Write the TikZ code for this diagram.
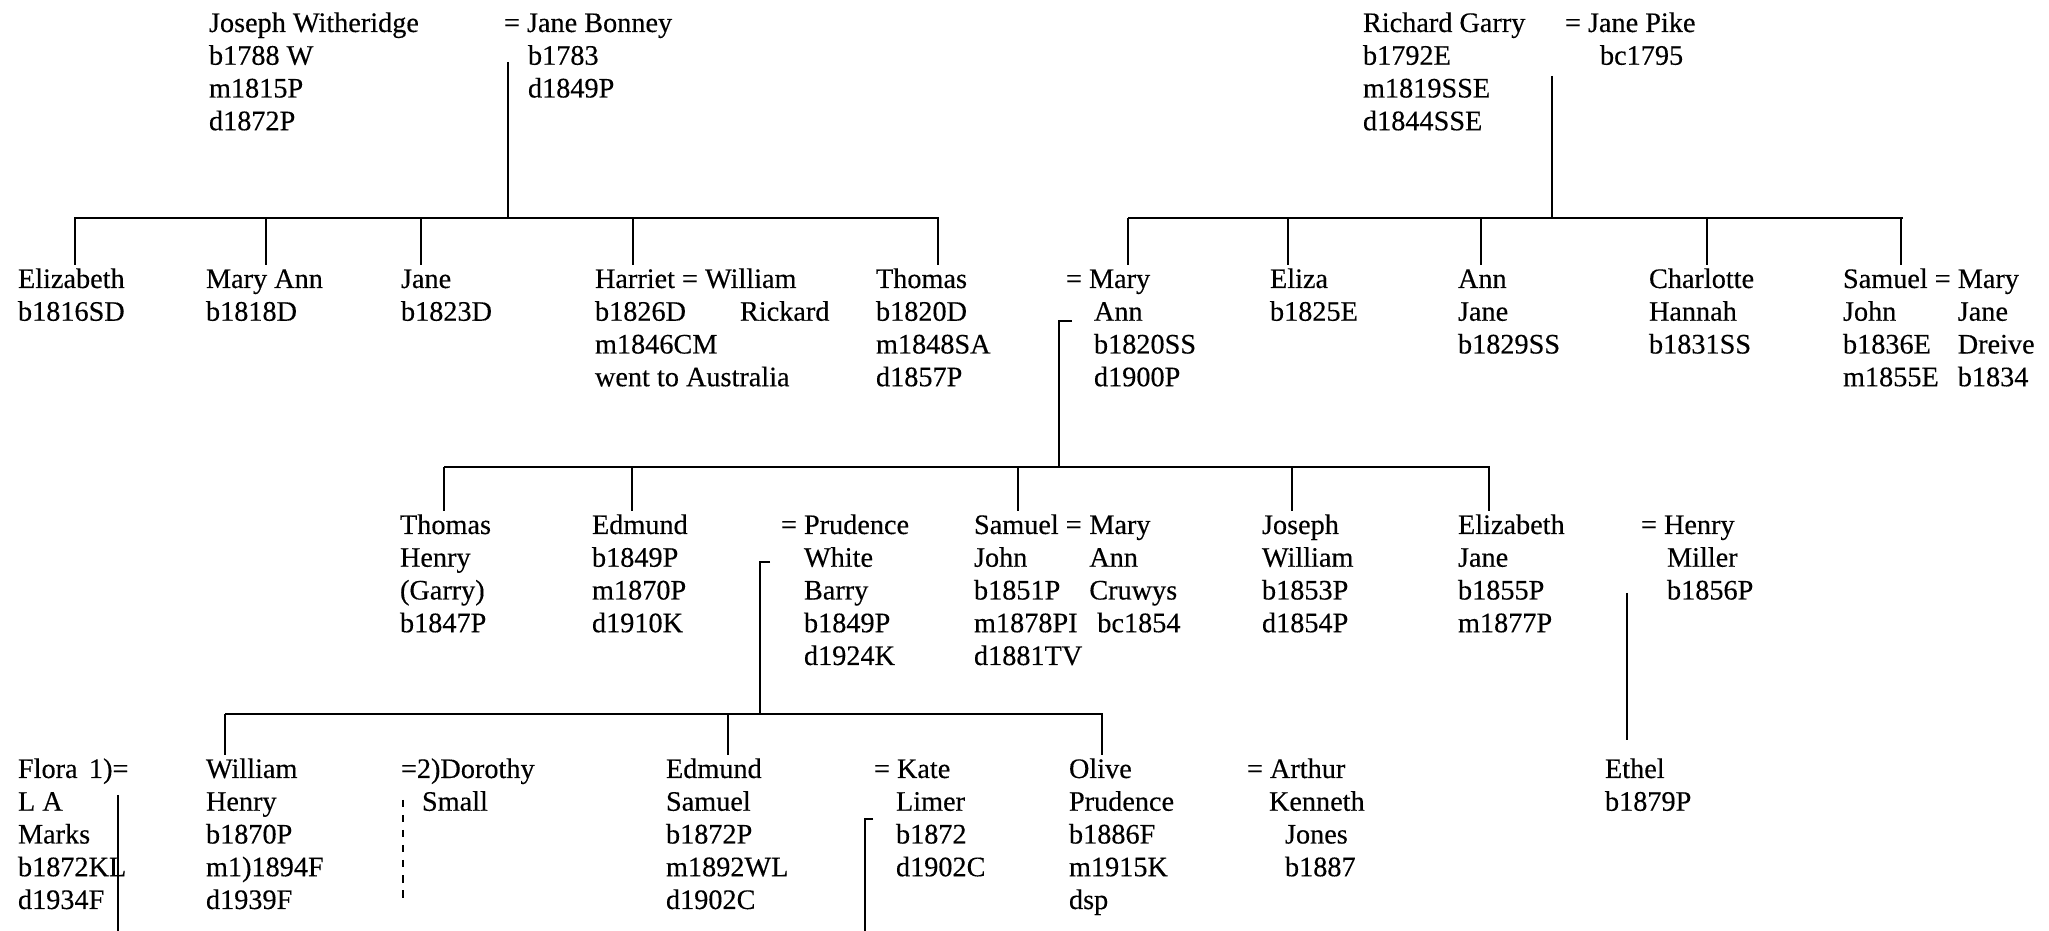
\documentclass[tikz,border=0pt]{standalone}
\usepackage{fontspec}
\setmainfont{Liberation Serif}
\newfontfamily\scanfont{Liberation Serif}[FakeBold=0.3]
\usetikzlibrary{calc}
\newlength{\px}\setlength{\px}{0.4pt}
\newcommand{\tb}[1]{\begin{tabular}[t]{@{}l@{}}#1\end{tabular}}
\newcommand{\tbb}[1]{\begin{tabular}[t]{@{}l@{\ }l@{}}#1\end{tabular}}
\begin{document}
\begin{tikzpicture}[x=0.4pt,y=-0.4pt,
  txt/.style={anchor=base west,inner sep=0pt,outer sep=0pt,font=\scanfont\fontsize{11.3}{13.1}\selectfont},
  ln/.style={line width=0.6pt}]
\useasboundingbox (0,0) rectangle (2049,931);
% ---------- generation 1
\node[txt] (jw) at (209,32) {\tb{Joseph Witheridge\\b1788 W\\m1815P\\d1872P}};
\node[txt] (jb) at (504,32) {\tb{= Jane Bonney\\\hspace*{24\px}b1783\\\hspace*{24\px}d1849P}};
\node[txt] (rg) at (1363,32) {\tb{Richard Garry\\b1792E\\m1819SSE\\d1844SSE}};
\node[txt] (jp) at (1565,32) {\tb{= Jane Pike\\\hspace*{35\px}bc1795}};
% ---------- generation 2
\node[txt] (eliz) at (18,288) {\tb{Elizabeth\\b1816SD}};
\node[txt] (mann) at (206,288) {\tb{Mary Ann\\b1818D}};
\node[txt] (jane) at (401,288) {\tb{Jane\\b1823D}};
\node[txt] (harr) at (595,288) {\tb{Harriet = William\\b1826D\\m1846CM\\went to Australia}};
\node[txt] (rick) at (740,320.75) {Rickard};
\node[txt] (thom) at (876,288) {\tb{Thomas\\b1820D\\m1848SA\\d1857P}};
\node[txt] (mary) at (1066,288) {\tb{= Mary\\\hspace*{28\px}Ann\\\hspace*{28\px}b1820SS\\\hspace*{28\px}d1900P}};
\node[txt] (eliza) at (1270,288) {\tb{Eliza\\b1825E}};
\node[txt] (annj) at (1458,288) {\tb{Ann\\Jane\\b1829SS}};
\node[txt] (charl) at (1649,288) {\tb{Charlotte\\Hannah\\b1831SS}};
\node[txt] (samj) at (1843,288) {\tbb{Samuel =&Mary\\John&Jane\\b1836E&Dreive\\m1855E&b1834}};
% ---------- generation 3
\node[txt] (thh) at (400,534) {\tb{Thomas\\Henry\\(Garry)\\b1847P}};
\node[txt] (edm) at (592,534) {\tb{Edmund\\b1849P\\m1870P\\d1910K}};
\node[txt] (prud) at (781,534) {\tb{= Prudence\\\hspace*{23\px}White\\\hspace*{23\px}Barry\\\hspace*{23\px}b1849P\\\hspace*{23\px}d1924K}};
\node[txt] (samjm) at (974,534) {\tbb{Samuel =&Mary\\John&Ann\\b1851P&Cruwys\\m1878PI&\hspace*{8\px}bc1854\\d1881TV&}};
\node[txt] (josw) at (1262,534) {\tb{Joseph\\William\\b1853P\\d1854P}};
\node[txt] (elj) at (1458,534) {\tb{Elizabeth\\Jane\\b1855P\\m1877P}};
\node[txt] (henry) at (1641,534) {\tb{= Henry\\\hspace*{26\px}Miller\\\hspace*{26\px}b1856P}};
% ---------- generation 4
\node[txt] (flora) at (18,778) {\tb{Flora\\L A\\Marks\\b1872KL\\d1934F}};
\node[txt] (flm) at (89,778) {1)=};
\node[txt] (wh) at (206,778) {\tb{William\\Henry\\b1870P\\m1)1894F\\d1939F}};
\node[txt] (dor) at (401,778) {\tb{=2)Dorothy\\\hspace*{21\px}Small}};
\node[txt] (eds) at (666,778) {\tb{Edmund\\Samuel\\b1872P\\m1892WL\\d1902C}};
\node[txt] (kate) at (874,778) {\tb{= Kate\\\hspace*{22\px}Limer\\\hspace*{22\px}b1872\\\hspace*{22\px}d1902C}};
\node[txt] (olive) at (1069,778) {\tb{Olive\\Prudence\\b1886F\\m1915K\\dsp}};
\node[txt] (arth) at (1247,778) {\tb{= Arthur\\\hspace*{22\px}Kenneth\\\hspace*{38\px}Jones\\\hspace*{38\px}b1887}};
\node[txt] (ethel) at (1605,778) {\tb{Ethel\\b1879P}};
% ---------- connectors: Witheridge family
\coordinate (b1L) at (74,218); \coordinate (b1R) at (939,218);
\coordinate (jbT) at (508,62);
\draw[ln] (b1L) -- (b1R);
\draw[ln] (jbT) -- (jbT |- b1L);
\coordinate (d11) at (75,218);  \draw[ln] (d11) -- (d11 |- eliz.north);
\coordinate (d12) at (266,218); \draw[ln] (d12) -- (d12 |- mann.north);
\coordinate (d13) at (421,218); \draw[ln] (d13) -- (d13 |- jane.north);
\coordinate (d14) at (633,218); \draw[ln] (d14) -- (d14 |- harr.north);
\coordinate (d15) at (938,218); \draw[ln] (d15) -- (d15 |- thom.north);
% ---------- Garry family
\coordinate (b2L) at (1128,218); \coordinate (b2R) at (1903,218);
\coordinate (jpT) at (1552,76);
\draw[ln] (b2L) -- (b2R);
\draw[ln] (jpT) -- (jpT |- b2L);
\coordinate (d21) at (1128,218); \draw[ln] (d21) -- (d21 |- mary.north);
\coordinate (d22) at (1288,218); \draw[ln] (d22) -- (d22 |- eliza.north);
\coordinate (d23) at (1481,218); \draw[ln] (d23) -- (d23 |- annj.north);
\coordinate (d24) at (1707,218); \draw[ln] (d24) -- (d24 |- charl.north);
\coordinate (d25) at (1901,218); \draw[ln] (d25) -- (d25 |- samj.north);
% ---------- Thomas = Mary Ann children
\coordinate (b3L) at (444,467); \coordinate (b3R) at (1490,467);
\coordinate (mh1) at (1072,321); \coordinate (mh2) at (1059,321);
\draw[ln] (b3L) -- (b3R);
\draw[ln] (mh1) -- (mh2) -- (mh2 |- b3L);
\coordinate (d31) at (444,467);  \draw[ln] (d31) -- (d31 |- thh.north);
\coordinate (d32) at (632,467);  \draw[ln] (d32) -- (d32 |- edm.north);
\coordinate (d33) at (1018,467); \draw[ln] (d33) -- (d33 |- samjm.north);
\coordinate (d34) at (1292,467); \draw[ln] (d34) -- (d34 |- josw.north);
\coordinate (d35) at (1489,467); \draw[ln] (d35) -- (d35 |- elj.north);
% ---------- Edmund = Prudence children
\coordinate (b4L) at (225,714); \coordinate (b4R) at (1103,714);
\coordinate (ph1) at (770,562); \coordinate (ph2) at (760,562);
\draw[ln] (b4L) -- (b4R);
\draw[ln] (ph1) -- (ph2) -- (ph2 |- b4L);
\coordinate (d41) at (225,714);  \draw[ln] (d41) -- (d41 |- wh.north);
\coordinate (d42) at (728,714);  \draw[ln] (d42) -- (d42 |- eds.north);
\coordinate (d43) at (1102,714); \draw[ln] (d43) -- (d43 |- olive.north);
% ---------- lines running below
\coordinate (kh1) at (873,819); \coordinate (kh2) at (865,819); \coordinate (kh3) at (865,931);
\draw[ln] (kh1) -- (kh2) -- (kh3);
\coordinate (fl1) at (118,795); \coordinate (fl2) at (118,931);
\draw[ln] (fl1) -- (fl2);
\coordinate (dl1) at (403,800); \coordinate (dl2) at (403,905);
\draw[ln,dashed] (dl1) -- (dl2);
\coordinate (et1) at (1627,593); \coordinate (et2) at (1627,740);
\draw[ln] (et1) -- (et2);
\end{tikzpicture}
\end{document}
